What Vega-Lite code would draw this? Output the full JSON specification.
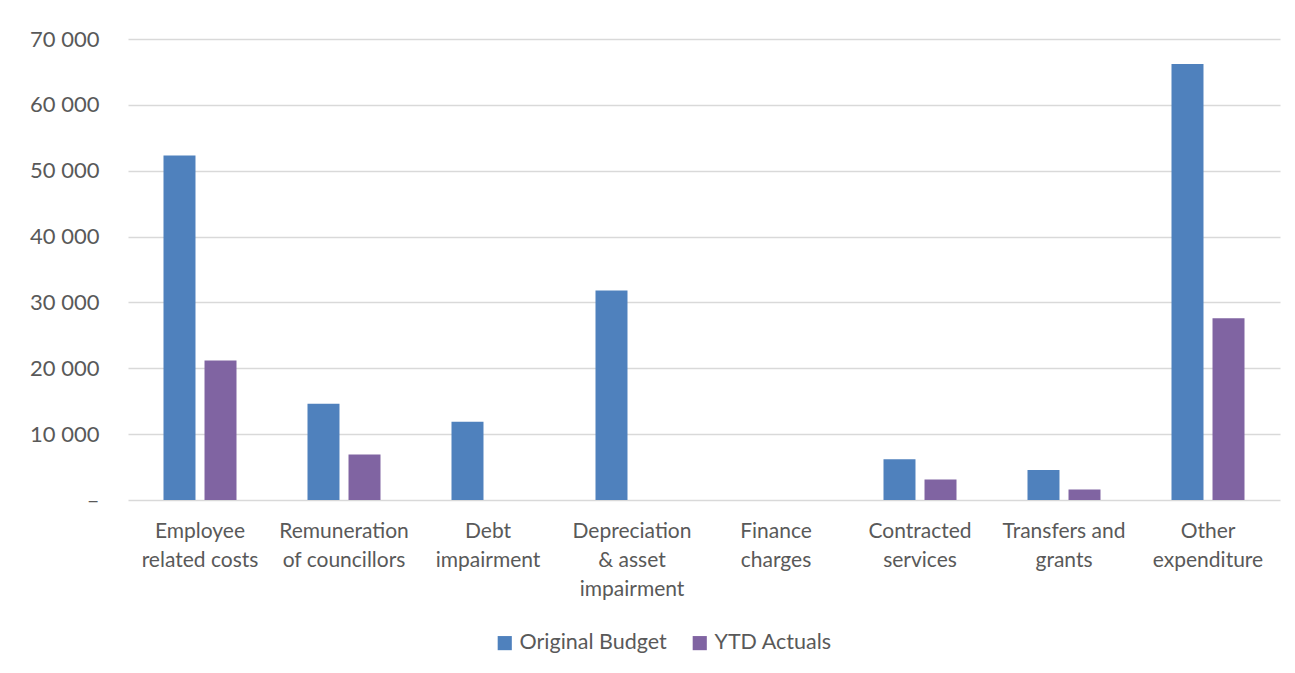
{
  "$schema": "https://vega.github.io/schema/vega-lite/v6.json",
  "width": 1152,
  "height": 461,
  "autosize": {"type": "none"},
  "padding": {"left": 128, "top": 39, "right": 15, "bottom": 173},
  "background": "white",
  "data": {"values": [
    {"category": "Employee related costs", "series": "Original Budget", "value": 52300},
    {"category": "Employee related costs", "series": "YTD Actuals", "value": 21200},
    {"category": "Remuneration of councillors", "series": "Original Budget", "value": 14600},
    {"category": "Remuneration of councillors", "series": "YTD Actuals", "value": 6900},
    {"category": "Debt impairment", "series": "Original Budget", "value": 11900},
    {"category": "Debt impairment", "series": "YTD Actuals", "value": 0},
    {"category": "Depreciation & asset impairment", "series": "Original Budget", "value": 31800},
    {"category": "Depreciation & asset impairment", "series": "YTD Actuals", "value": 0},
    {"category": "Finance charges", "series": "Original Budget", "value": 0},
    {"category": "Finance charges", "series": "YTD Actuals", "value": 0},
    {"category": "Contracted services", "series": "Original Budget", "value": 6200},
    {"category": "Contracted services", "series": "YTD Actuals", "value": 3100},
    {"category": "Transfers and grants", "series": "Original Budget", "value": 4550},
    {"category": "Transfers and grants", "series": "YTD Actuals", "value": 1600},
    {"category": "Other expenditure", "series": "Original Budget", "value": 66200},
    {"category": "Other expenditure", "series": "YTD Actuals", "value": 27600}
  ]},
  "mark": {"type": "bar"},
  "encoding": {
    "x": {
      "field": "category", "type": "nominal", "sort": null, "title": null,
      "scale": {"paddingInner": 0.493, "paddingOuter": 0.2465},
      "axis": {
        "labelAngle": 0, "ticks": false, "domain": false, "grid": false,
        "labelPadding": 20, "labelLineHeight": 29, "labelBaseline": "top",
        "labelExpr": "datum.value == 'Employee related costs' ? ['Employee','related costs'] : datum.value == 'Remuneration of councillors' ? ['Remuneration','of councillors'] : datum.value == 'Debt impairment' ? ['Debt','impairment'] : datum.value == 'Depreciation & asset impairment' ? ['Depreciation','& asset','impairment'] : datum.value == 'Finance charges' ? ['Finance','charges'] : datum.value == 'Contracted services' ? ['Contracted','services'] : datum.value == 'Transfers and grants' ? ['Transfers and','grants'] : ['Other','expenditure']"
      }
    },
    "xOffset": {"field": "series", "type": "nominal", "scale": {"paddingInner": 0.22, "paddingOuter": 0}},
    "y": {
      "field": "value", "type": "quantitative", "title": null,
      "scale": {"domain": [0, 70000], "nice": false},
      "axis": {
        "values": [0, 10000, 20000, 30000, 40000, 50000, 60000, 70000],
        "ticks": false, "domain": false, "labelPadding": 29, "labelFontSize": 22,
        "gridColor": "#d9d9d9", "gridWidth": 1.5,
        "labelExpr": "datum.value == 0 ? '–' : replace(format(datum.value, ','), ',', ' ')"
      }
    },
    "color": {
      "field": "series", "type": "nominal", "title": null,
      "scale": {"domain": ["Original Budget", "YTD Actuals"], "range": ["#4F81BD", "#8064A2"]},
      "legend": {
        "orient": "none", "direction": "horizontal", "legendX": 366, "legendY": 593,
        "symbolType": "square", "symbolSize": 200, "symbolStrokeWidth": 0,
        "columnPadding": 22, "labelFontSize": 21.5, "labelColor": "#595959", "labelFont": "Lato"
      }
    }
  },
  "config": {
    "view": {"stroke": null},
    "axis": {"labelFont": "Lato", "labelFontSize": 21, "labelColor": "#595959"}
  }
}
